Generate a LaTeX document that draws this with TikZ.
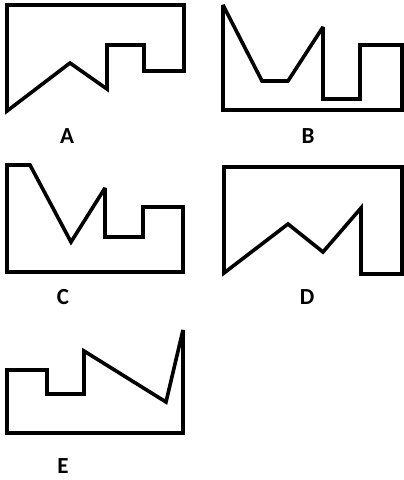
\documentclass[tikz,border=0pt]{standalone}
\usepackage{fontspec}
\setmainfont{Carlito}
\begin{document}
\begin{tikzpicture}[x=1pt,y=-1pt,
  outline/.style={draw=black,line width=3.6pt,line join=miter,miter limit=3},
  lbl/.style={font=\bfseries\fontsize{23}{23}\selectfont,inner sep=0pt}]
\useasboundingbox (0,0) rectangle (404,480);
% A
\draw[outline] (7,5) -- (184,5) -- (184,71) -- (144,71) -- (144,45) -- (107,45) -- (107,89) -- (70,63) -- (7,111) -- cycle;
\node[lbl] (la) at (67,136) {A};
% B
\draw[outline] (223,5) -- (262,81) -- (288,81) -- (323,27) -- (323,99) -- (360,99) -- (360,45) -- (402,45) -- (402,110) -- (223,110) -- cycle;
\node[lbl] (lb) at (308,136) {B};
% C
\draw[outline] (7,165) -- (30,165) -- (71,242) -- (105,188) -- (105,237) -- (143,237) -- (143,207) -- (183,207) -- (183,272) -- (7,272) -- cycle;
\node[lbl] (lc) at (63,297) {C};
% D
\draw[outline] (224,167) -- (402,167) -- (402,274) -- (361,274) -- (361,208) -- (323,252) -- (288,224) -- (224,273) -- cycle;
\node[lbl] (ld) at (307,297) {D};
% E
\draw[outline] (7,370) -- (47,370) -- (47,394) -- (84,394) -- (84,351) -- (166,402) -- (183,330) -- (183,433) -- (7,433) -- cycle;
\node[lbl] (le) at (63,466) {E};
\end{tikzpicture}
\end{document}
